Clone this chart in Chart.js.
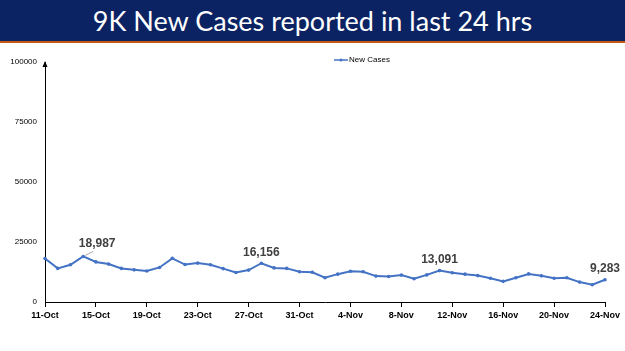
<!DOCTYPE html>
<html>
<head>
<meta charset="utf-8">
<script src="https://cdn.jsdelivr.net/npm/chart.js@4"></script>
<style>
  html, body { margin: 0; padding: 0; background: #fff; }
  #title {
    width: 625px; height: 41px; background: #0b2363;
    border-bottom: 2px solid #c55a11;
    color: #fff; font-family: Lato, sans-serif; font-size: 27px;
    text-align: center; line-height: 41px;
  }
  #wrap { width: 625px; height: 308px; position: relative; }
</style>
</head>
<body>
<div id="title">9K New Cases reported in last 24 hrs</div>
<div id="wrap"><canvas id="chart"></canvas></div>
<script>
// dates shown on the x axis (one per day)
const dates = [
  '11-Oct','12-Oct','13-Oct','14-Oct','15-Oct','16-Oct','17-Oct','18-Oct','19-Oct','20-Oct',
  '21-Oct','22-Oct','23-Oct','24-Oct','25-Oct','26-Oct','27-Oct','28-Oct','29-Oct','30-Oct',
  '31-Oct','1-Nov','2-Nov','3-Nov','4-Nov','5-Nov','6-Nov','7-Nov','8-Nov','9-Nov',
  '10-Nov','11-Nov','12-Nov','13-Nov','14-Nov','15-Nov','16-Nov','17-Nov','18-Nov','19-Nov',
  '20-Nov','21-Nov','22-Nov','23-Nov','24-Nov'
];
const newCases = [
  18100, 14000, 15500, 18987, 16700, 15800, 14000, 13400, 12900, 14400,
  18200, 15600, 16200, 15500, 13900, 12300, 13300, 16156, 14200, 14000,
  12600, 12400, 10100, 11600, 12800, 12600, 10800, 10600, 11200, 9700,
  11300, 13091, 12200, 11600, 11000, 9900, 8600, 10100, 11700, 10900,
  9900, 10100, 8300, 7200, 9283
];
// which points get a value label
const labelled = [3, 17, 31, 44];
const yTicks = [0, 25000, 50000, 75000, 100000];

const blue = '#4472c4';

const extras = {
  id: 'extras',
  afterDraw(chart) {
    const ctx = chart.ctx;
    const meta = chart.getDatasetMeta(0);
    const area = chart.chartArea;
    ctx.save();
    // arrow on the y axis
    ctx.fillStyle = '#000';
    ctx.beginPath();
    ctx.moveTo(area.left, area.top - 1);
    ctx.lineTo(area.left - 2.5, area.top + 5);
    ctx.lineTo(area.left + 2.5, area.top + 5);
    ctx.closePath();
    ctx.fill();

    // value labels
    ctx.font = 'bold 12px "Liberation Sans", sans-serif';
    ctx.fillStyle = '#404040';
    ctx.textAlign = 'center';
    ctx.textBaseline = 'middle';
    labelled.forEach((i, n) => {
      const p = meta.data[i];
      const txt = newCases[i].toLocaleString('en-US');
      if (n === 0) {
        ctx.strokeStyle = '#a6a6a6';
        ctx.lineWidth = 1;
        ctx.beginPath();
        ctx.moveTo(p.x + 2, p.y - 1);
        ctx.lineTo(p.x + 10, p.y - 5);
        ctx.stroke();
        ctx.fillText(txt, p.x + 14, p.y - 13);
      } else {
        ctx.fillText(txt, p.x, p.y - 11);
      }
    });

    // legend
    const lx = 334, ly = 17;
    ctx.strokeStyle = blue;
    ctx.lineWidth = 1.5;
    ctx.beginPath();
    ctx.moveTo(lx, ly);
    ctx.lineTo(lx + 14, ly);
    ctx.stroke();
    ctx.fillStyle = blue;
    ctx.beginPath();
    ctx.arc(lx + 7, ly, 1.5, 0, Math.PI * 2);
    ctx.fill();
    ctx.fillStyle = '#000';
    ctx.font = '8px "Liberation Sans", sans-serif';
    ctx.textAlign = 'left';
    ctx.fillText(chart.data.datasets[0].label, lx + 15, ly);
    ctx.restore();
  }
};

new Chart(document.getElementById('chart'), {
  type: 'line',
  data: {
    labels: dates,
    datasets: [{
      label: 'New Cases',
      data: newCases,
      borderColor: blue,
      backgroundColor: blue,
      borderWidth: 2,
      pointRadius: 1.8,
      pointBorderWidth: 0,
      tension: 0
    }]
  },
  options: {
    responsive: true,
    maintainAspectRatio: false,
    animation: false,
    layout: { padding: { top: 19, right: 20, left: 0, bottom: 0 } },
    plugins: { legend: { display: false }, tooltip: { enabled: false } },
    scales: {
      x: {
        offset: false,
        afterFit(scale) { scale.height = 49; },
        border: { color: '#000', width: 1 },
        grid: {
          drawOnChartArea: false,
          tickLength: 5,
          tickColor: (c) => (c.index % 4 === 0 ? '#000' : 'rgba(0,0,0,0)')
        },
        ticks: {
          autoSkip: false,
          maxRotation: 0,
          padding: 3,
          color: '#000',
          font: { family: 'Liberation Sans', size: 9, weight: 'bold' },
          callback: (v, i) => (i % 4 === 0 ? dates[i] : '')
        }
      },
      y: {
        min: 0,
        max: 100000,
        afterFit(scale) { scale.width = 45; },
        afterBuildTicks(scale) { scale.ticks = yTicks.map(v => ({ value: v })); },
        border: { color: '#000', width: 1 },
        grid: { drawOnChartArea: false, drawTicks: false },
        ticks: {
          padding: 8,
          color: '#000',
          font: { family: 'Liberation Sans', size: 8 },
          callback: (v) => String(v)
        }
      }
    }
  },
  plugins: [extras]
});
</script>
</body>
</html>
